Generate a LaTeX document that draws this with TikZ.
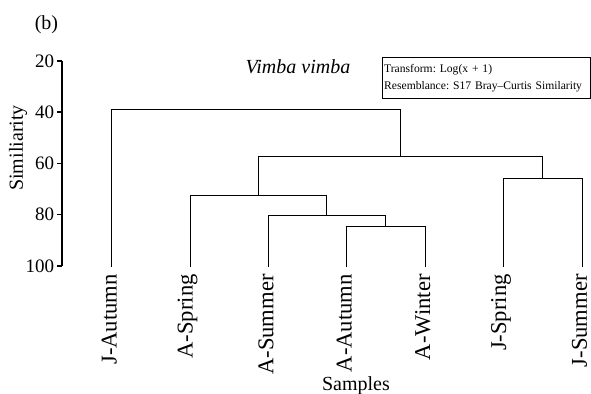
\documentclass[tikz,border=0pt]{standalone}
\usepackage{fontspec}
\setmainfont{Liberation Serif}
\frenchspacing
\usetikzlibrary{positioning}
\tikzset{
  rama/.style={line width=0.55pt, line cap=rect},
  eje/.style={line width=0.75pt},
  hoja/.style={rotate=90, anchor=east, inner sep=0pt, font=\fontsize{11.3}{13}\selectfont},
  marca/.style={anchor=east, inner sep=0pt, font=\fontsize{9.5}{11}\selectfont},
  leyenda/.style={draw, line width=0.5pt, anchor=north west, align=left,
    minimum width=104pt, minimum height=17.8pt, text width=102pt, inner xsep=1pt,
    font=\fontsize{5.8}{8.4}\selectfont},
}
\begin{document}
\begin{tikzpicture}[x=0.5pt, y=-0.5pt]
  \useasboundingbox (0,0) rectangle (591,394);
  % Titulos
  \node (panel) at (46.5,25) {\fontsize{10}{12}\selectfont (b)};
  \node (especie) at (298,67) {\fontsize{10}{12}\selectfont\itshape Vimba vimba};
  \node[leyenda] (info) at (381.7,57.3) {Transform: Log(x + 1)\\Resemblance: S17 Bray--Curtis Similarity};
  \node[rotate=90] (ytit) at (18,148) {\fontsize{10}{12}\selectfont Similiarity};
  \node[anchor=base] (xtit) at (356,391) {\fontsize{10}{12}\selectfont Samples};
  % Eje y (unidades de similitud)
  \begin{scope}[yshift=-4.875pt, y=-1.28125pt]
    \coordinate (ejetop) at (62,20);
    \coordinate (ejebot) at (62,100);
    \draw[eje] (ejetop) -- (ejebot);
    \foreach \s in {20,40,60,80,100} {
      \coordinate (t\s) at (62,\s);
      \draw[eje] (t\s) -- ++(-5,0) node[marca, left=1pt] (tl\s) {\s};
    }
    % Hojas
    \foreach \nom [count=\i] in {J-Autumn,A-Spring,A-Summer,A-Autumn,A-Winter,J-Spring,J-Summer} {
      \coordinate (l\i) at ({111.7+78.4*(\i-1)},100);
      \node[hoja] (n\i) at ({109.2+78.4*(\i-1)},103.1) {\nom};
    }
    % Uniones
    \coordinate (m45) at (385.75,84.5);
    \coordinate (m345) at (326.9,80.3);
    \coordinate (m2345) at (258.4,72.5);
    \coordinate (m67) at (542.75,65.7);
    \coordinate (m27) at (400.6,57.3);
    \coordinate (raiz) at (256.1,39);
    \draw[rama] (l4) |- (m45) -| (l5);
    \draw[rama] (l3) |- (m345) -| (m45);
    \draw[rama] (l2) |- (m2345) -| (m345);
    \draw[rama] (l6) |- (m67) -| (l7);
    \draw[rama] (m2345) |- (m27) -| (m67);
    \draw[rama] (l1) |- (raiz) -| (m27);
  \end{scope}
\end{tikzpicture}
\end{document}
